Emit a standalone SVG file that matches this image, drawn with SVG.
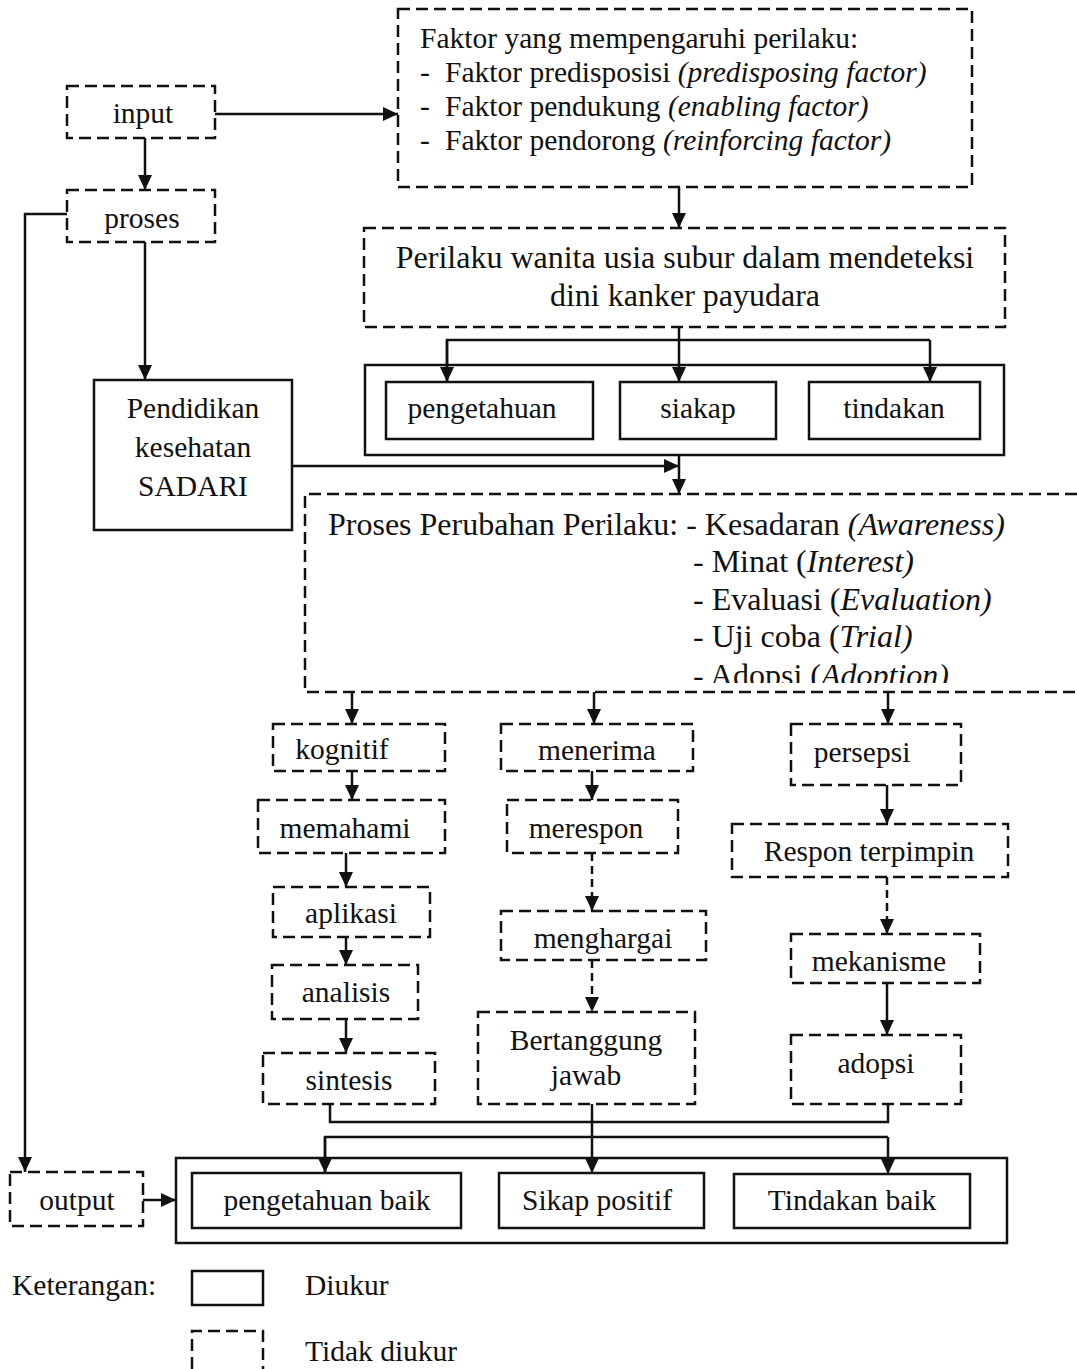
<svg xmlns="http://www.w3.org/2000/svg" width="1077" height="1369" viewBox="0 0 1077 1369">
<style>
text{font-family:"Liberation Serif","Times New Roman",serif;font-size:29.5px;fill:#111}
.big{font-size:32px}
.c{text-anchor:middle}
.i{font-style:italic}
.s{fill:none;stroke:#111;stroke-width:2.5}
.d{fill:none;stroke:#111;stroke-width:2.5;stroke-dasharray:12 6}
.ln{fill:none;stroke:#111;stroke-width:2.5}
.ld{fill:none;stroke:#111;stroke-width:2.5;stroke-dasharray:8 5}
</style>
<defs>
<marker id="a" markerUnits="userSpaceOnUse" markerWidth="16" markerHeight="16" refX="15" refY="8" orient="auto"><path d="M0,1 L15,8 L0,15 z" fill="#111"/></marker>
<clipPath id="clipP"><rect x="300" y="490" width="780" height="193"/></clipPath>
</defs>
<rect width="1077" height="1369" fill="#fff"/>

<g id="input"><rect class="d" x="67" y="86" width="148" height="52"/><text class="c" x="143" y="123">input</text></g>
<g id="proses"><rect class="d" x="67" y="190" width="148" height="52"/><text class="c" x="142" y="228">proses</text></g>
<g id="faktor"><rect class="d" x="398" y="9" width="574" height="178"/>
<text x="420" y="48">Faktor yang mempengaruhi perilaku:</text>
<text x="420" y="82">-<tspan x="445">Faktor predisposisi </tspan><tspan class="i">(predisposing factor)</tspan></text>
<text x="420" y="116">-<tspan x="445">Faktor pendukung </tspan><tspan class="i">(enabling factor)</tspan></text>
<text x="420" y="150">-<tspan x="445">Faktor pendorong </tspan><tspan class="i">(reinforcing factor)</tspan></text>
</g>
<g id="perilaku"><rect class="d" x="364" y="228" width="641" height="99"/>
<text class="c big" x="685" y="268">Perilaku wanita usia subur dalam mendeteksi</text>
<text class="c big" x="685" y="306">dini kanker payudara</text></g>
<g id="grupPST"><rect class="s" x="365" y="365" width="639" height="90"/></g>
<g id="pengetahuan"><rect class="s" x="386" y="382" width="207" height="57"/><text class="c" x="482" y="418">pengetahuan</text></g>
<g id="siakap"><rect class="s" x="620" y="382" width="156" height="57"/><text class="c" x="698" y="418">siakap</text></g>
<g id="tindakan"><rect class="s" x="809" y="382" width="171" height="57"/><text class="c" x="894" y="418">tindakan</text></g>
<g id="pendidikan"><rect class="s" x="94" y="380" width="198" height="150"/>
<text class="c" x="193" y="418">Pendidikan</text><text class="c" x="193" y="457">kesehatan</text><text class="c" x="193" y="496">SADARI</text></g>
<g id="prosesPerubahan"><path class="d" d="M1077,494 H305 V692 H1077"/>
<g clip-path="url(#clipP)">
<text class="big" x="328" y="535">Proses Perubahan Perilaku: - Kesadaran <tspan class="i">(Awareness)</tspan></text>
<text class="big" x="693" y="572">- Minat (<tspan class="i">Interest)</tspan></text>
<text class="big" x="693" y="610">- Evaluasi (<tspan class="i">Evaluation)</tspan></text>
<text class="big" x="693" y="647">- Uji coba (<tspan class="i">Trial)</tspan></text>
<text class="big" x="693" y="686">- Adopsi (<tspan class="i">Adoption)</tspan></text>
</g></g>

<g id="kognitif"><rect class="d" x="273" y="724" width="172" height="47"/><text class="c" x="342" y="759">kognitif</text></g>
<g id="memahami"><rect class="d" x="258" y="800" width="187" height="53"/><text class="c" x="345" y="838">memahami</text></g>
<g id="aplikasi"><rect class="d" x="273" y="887" width="157" height="50"/><text class="c" x="351" y="923">aplikasi</text></g>
<g id="analisis"><rect class="d" x="272" y="965" width="146" height="54"/><text class="c" x="346" y="1002">analisis</text></g>
<g id="sintesis"><rect class="d" x="263" y="1053" width="172" height="51"/><text class="c" x="349" y="1090">sintesis</text></g>

<g id="menerima"><rect class="d" x="501" y="724" width="192" height="47"/><text class="c" x="597" y="760">menerima</text></g>
<g id="merespon"><rect class="d" x="507" y="800" width="171" height="53"/><text class="c" x="586" y="838">merespon</text></g>
<g id="menghargai"><rect class="d" x="501" y="911" width="205" height="49"/><text class="c" x="603" y="948">menghargai</text></g>
<g id="bertanggung"><rect class="d" x="478" y="1012" width="217" height="92"/><text class="c" x="586" y="1050">Bertanggung</text><text class="c" x="586" y="1085">jawab</text></g>

<g id="persepsi"><rect class="d" x="791" y="724" width="170" height="61"/><text class="c" x="862" y="762">persepsi</text></g>
<g id="respon"><rect class="d" x="732" y="824" width="276" height="53"/><text class="c" x="869" y="861">Respon terpimpin</text></g>
<g id="mekanisme"><rect class="d" x="791" y="934" width="189" height="49"/><text class="c" x="879" y="971">mekanisme</text></g>
<g id="adopsi"><rect class="d" x="791" y="1035" width="170" height="69"/><text class="c" x="876" y="1073">adopsi</text></g>

<g id="grupOutput"><rect class="s" x="176" y="1158" width="831" height="85"/></g>
<g id="pengetahuanBaik"><rect class="s" x="192" y="1173" width="269" height="55"/><text class="c" x="327" y="1210">pengetahuan baik</text></g>
<g id="sikapPositif"><rect class="s" x="499" y="1173" width="205" height="55"/><text class="c" x="597" y="1210">Sikap positif</text></g>
<g id="tindakanBaik"><rect class="s" x="734" y="1174" width="236" height="54"/><text class="c" x="852" y="1210">Tindakan baik</text></g>
<g id="output"><rect class="d" x="10" y="1172" width="133" height="54"/><text class="c" x="77" y="1210">output</text></g>

<g id="legend">
<text x="12" y="1295">Keterangan:</text>
<rect class="s" x="192" y="1271" width="71" height="34"/>
<text x="305" y="1295">Diukur</text>
<path class="d" d="M192,1369 V1331 H263 V1369"/>
<text x="305" y="1361">Tidak diukur</text>
</g>

<g id="connectors">
<path class="ln" d="M215,114 H398" marker-end="url(#a)"/>
<path class="ln" d="M145,138 V190" marker-end="url(#a)"/>
<path class="ln" d="M67,214 H25 V1172" marker-end="url(#a)"/>
<path class="ln" d="M145,242 V380" marker-end="url(#a)"/>
<path class="ln" d="M679,187 V228" marker-end="url(#a)"/>
<path class="ln" d="M679,327 V382" marker-end="url(#a)"/>
<path class="ln" d="M447,382 V340 H930"/>
<path class="ln" d="M447,340 V382" marker-end="url(#a)"/>
<path class="ln" d="M930,340 V382" marker-end="url(#a)"/>
<path class="ln" d="M292,466 H679" marker-end="url(#a)"/>
<path class="ln" d="M679,455 V494" marker-end="url(#a)"/>
<path class="ln" d="M352,692 V724" marker-end="url(#a)"/>
<path class="ln" d="M594,692 V724" marker-end="url(#a)"/>
<path class="ln" d="M888,692 V724" marker-end="url(#a)"/>
<path class="ln" d="M352,771 V800" marker-end="url(#a)"/>
<path class="ln" d="M346,853 V887" marker-end="url(#a)"/>
<path class="ln" d="M346,937 V965" marker-end="url(#a)"/>
<path class="ln" d="M346,1019 V1053" marker-end="url(#a)"/>
<path class="ln" d="M592,771 V800" marker-end="url(#a)"/>
<path class="ld" d="M592,853 V911" marker-end="url(#a)"/>
<path class="ld" d="M592,960 V1012" marker-end="url(#a)"/>
<path class="ln" d="M887,785 V824" marker-end="url(#a)"/>
<path class="ld" d="M887,877 V934" marker-end="url(#a)"/>
<path class="ln" d="M887,983 V1035" marker-end="url(#a)"/>
<path class="ln" d="M330,1104 V1122 H888 V1104"/>
<path class="ln" d="M592,1104 V1173" marker-end="url(#a)"/>
<path class="ln" d="M325,1173 V1137 H888"/>
<path class="ln" d="M325,1137 V1173" marker-end="url(#a)"/>
<path class="ln" d="M888,1137 V1174" marker-end="url(#a)"/>
<path class="ln" d="M143,1200 H176" marker-end="url(#a)"/>
</g>
</svg>
